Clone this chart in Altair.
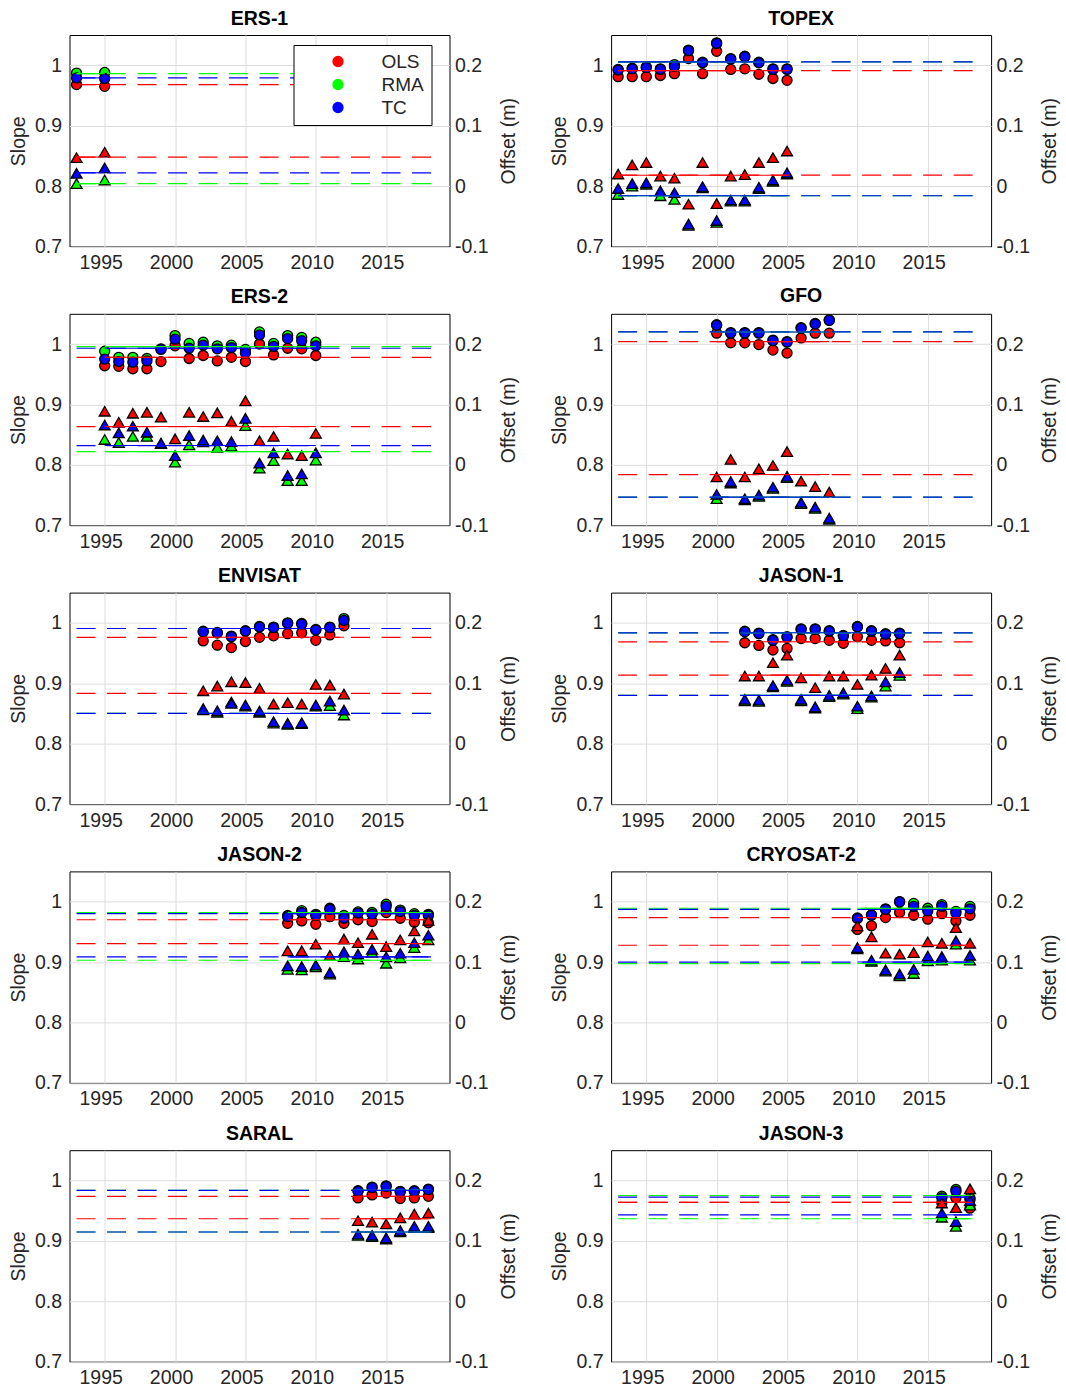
import altair as alt
import pandas as pd

FONT = "Liberation Sans"
METHODS = ["OLS", "RMA", "TC"]
COLORS = ["#ff0000", "#00ff00", "#0000ff"]
X_DOMAIN = [1992.5, 2019.5]
X_TICKS = [1995, 2000, 2005, 2010, 2015]
LINE_START, LINE_END = 1993, 2019
SLOPE_DOMAIN = [0.7, 1.05]
SLOPE_TICKS = [0.7, 0.8, 0.9, 1.0]
OFFSET_DOMAIN = [-0.1, 0.25]
OFFSET_TICKS = [-0.1, 0.0, 0.1, 0.2]

# ---------------- ERS-1 ----------------
ers1_years = [1993, 1995]
ers1_slope = {"OLS": [0.968, 0.965], "RMA": [0.987, 0.988], "TC": [0.979, 0.978]}
ers1_offset = {"OLS": [0.047, 0.056], "RMA": [0.004, 0.010], "TC": [0.021, 0.030]}
ers1_slope_mean = {"OLS": 0.968, "RMA": 0.986, "TC": 0.979}
ers1_offset_mean = {"OLS": 0.048, "RMA": 0.004, "TC": 0.022}

# ---------------- TOPEX ----------------
topex_years = list(range(1993, 2006))
topex_slope = {
    "OLS": [0.981, 0.981, 0.981, 0.983, 0.986, 1.011, 0.986, 1.023, 0.993, 0.994, 0.985, 0.978, 0.975],
    "RMA": [0.993, 0.995, 0.997, 0.994, 1.001, 1.025, 1.005, 1.037, 1.011, 1.015, 1.005, 0.994, 0.994],
    "TC": [0.992, 0.994, 0.996, 0.993, 0.998, 1.024, 1.004, 1.036, 1.010, 1.014, 1.004, 0.993, 0.993],
}
topex_offset = {
    "OLS": [0.020, 0.035, 0.039, 0.0165, 0.013, -0.030, 0.039, -0.029, 0.0165, 0.019, 0.039, 0.047, 0.058],
    "RMA": [-0.014, 0.000, 0.003, -0.016, -0.022, -0.065, -0.003, -0.060, -0.025, -0.025, -0.004, 0.008, 0.020],
    "TC": [-0.004, 0.004, 0.0055, -0.008, -0.011, -0.063, -0.001, -0.057, -0.023, -0.023, -0.002, 0.010, 0.022],
}
topex_slope_mean = {"OLS": 0.991, "RMA": 1.0055, "TC": 1.0055}
topex_offset_mean = {"OLS": 0.018, "RMA": -0.016, "TC": -0.016}

# ---------------- ERS-2 ----------------
ers2_years = list(range(1995, 2011))
ers2_slope = {
    "OLS": [0.964, 0.963, 0.959, 0.959, 0.971, 0.997, 0.976, 0.981, 0.972, 0.978, 0.971, 1.000, 0.982, 0.993, 0.992, 0.981],
    "RMA": [0.988, 0.978, 0.978, 0.976, 0.992, 1.014, 1.001, 1.003, 0.997, 0.998, 0.991, 1.020, 1.001, 1.014, 1.011, 1.003],
    "TC": [0.975, 0.971, 0.970, 0.972, 0.991, 1.008, 0.993, 0.998, 0.992, 0.994, 0.985, 1.015, 0.996, 1.009, 1.0055, 0.997],
}
ers2_offset = {
    "OLS": [0.0887, 0.0705, 0.0854, 0.087, 0.079, 0.043, 0.087, 0.080, 0.086, 0.072, 0.106, 0.040, 0.047, 0.018, 0.0154, 0.052],
    "RMA": [0.042, 0.037, 0.047, 0.047, 0.035, 0.0044, 0.033, 0.038, 0.029, 0.031, 0.065, -0.0055, 0.007, -0.026, -0.026, 0.008],
    "TC": [0.066, 0.053, 0.064, 0.054, 0.036, 0.0154, 0.0485, 0.041, 0.040, 0.0386, 0.077, 0.003, 0.020, -0.0176, -0.015, 0.020],
}
ers2_slope_mean = {"OLS": 0.978, "RMA": 0.9956, "TC": 0.993}
ers2_offset_mean = {"OLS": 0.0634, "RMA": 0.022, "TC": 0.032}

# ---------------- GFO ----------------
gfo_years = list(range(2000, 2009))
gfo_slope = {
    "OLS": [1.018, 1.002, 1.002, 0.999, 0.990, 0.985, 1.010, 1.018, 1.018],
    "RMA": [1.032, 1.019, 1.019, 1.019, 1.0065, 1.004, 1.027, 1.034, 1.040],
    "TC": [1.031, 1.018, 1.018, 1.018, 1.0055, 1.003, 1.026, 1.033, 1.039],
}
gfo_offset = {
    "OLS": [-0.020, 0.009, -0.020, -0.0066, -0.001, 0.022, -0.027, -0.036, -0.045],
    "RMA": [-0.056, -0.030, -0.058, -0.052, -0.039, -0.021, -0.064, -0.072, -0.090],
    "TC": [-0.049, -0.0275, -0.056, -0.050, -0.037, -0.019, -0.062, -0.070, -0.088],
}
gfo_slope_mean = {"OLS": 1.004, "RMA": 1.020, "TC": 1.020}
gfo_offset_mean = {"OLS": -0.016, "RMA": -0.0534, "TC": -0.0534}

# ---------------- ENVISAT ----------------
envisat_years = list(range(2002, 2013))
envisat_slope = {
    "OLS": [0.970, 0.963, 0.959, 0.969, 0.976, 0.9785, 0.982, 0.9835, 0.971, 0.980, 0.995],
    "RMA": [0.986, 0.984, 0.978, 0.987, 0.994, 0.993, 1.000, 0.999, 0.989, 0.993, 1.007],
    "TC": [0.985, 0.983, 0.977, 0.986, 0.993, 0.992, 0.999, 0.998, 0.988, 0.992, 1.004],
}
envisat_offset = {
    "OLS": [0.0876, 0.0953, 0.1025, 0.101, 0.0915, 0.0656, 0.0678, 0.0656, 0.098, 0.097, 0.082],
    "RMA": [0.056, 0.052, 0.069, 0.062, 0.052, 0.034, 0.032, 0.033, 0.062, 0.063, 0.0474],
    "TC": [0.058, 0.0545, 0.0667, 0.064, 0.054, 0.0364, 0.0336, 0.0347, 0.064, 0.0705, 0.0556],
}
envisat_slope_mean = {"OLS": 0.976, "RMA": 0.9906, "TC": 0.9906}
envisat_offset_mean = {"OLS": 0.0832, "RMA": 0.050, "TC": 0.050}

# ---------------- JASON-1 ----------------
jason1_years = list(range(2002, 2014))
jason1_slope = {
    "OLS": [0.967, 0.9625, 0.955, 0.9576, 0.974, 0.974, 0.971, 0.966, 0.977, 0.971, 0.970, 0.967],
    "RMA": [0.986, 0.983, 0.972, 0.977, 0.990, 0.990, 0.987, 0.979, 0.994, 0.987, 0.982, 0.983],
    "TC": [0.985, 0.982, 0.971, 0.976, 0.989, 0.989, 0.986, 0.978, 0.993, 0.986, 0.981, 0.982],
}
jason1_offset = {
    "OLS": [0.112, 0.112, 0.134, 0.1466, 0.109, 0.0926, 0.112, 0.112, 0.098, 0.1135, 0.1245, 0.1466],
    "RMA": [0.071, 0.070, 0.094, 0.103, 0.071, 0.059, 0.078, 0.082, 0.058, 0.077, 0.0953, 0.113],
    "TC": [0.0733, 0.072, 0.096, 0.105, 0.0733, 0.061, 0.080, 0.084, 0.062, 0.079, 0.1025, 0.1176],
}
jason1_slope_mean = {"OLS": 0.9686, "RMA": 0.9835, "TC": 0.9835}
jason1_offset_mean = {"OLS": 0.1135, "RMA": 0.080, "TC": 0.080}

# ---------------- JASON-2 ----------------
jason2_years = list(range(2008, 2019))
jason2_slope = {
    "OLS": [0.964, 0.968, 0.9625, 0.975, 0.964, 0.970, 0.967, 0.982, 0.9725, 0.966, 0.965],
    "RMA": [0.977, 0.985, 0.979, 0.989, 0.977, 0.983, 0.982, 0.9956, 0.986, 0.980, 0.979],
    "TC": [0.975, 0.982, 0.977, 0.987, 0.9725, 0.981, 0.979, 0.992, 0.9835, 0.977, 0.977],
}
jason2_offset = {
    "OLS": [0.1185, 0.1185, 0.1295, 0.111, 0.138, 0.132, 0.146, 0.1256, 0.1366, 0.1515, 0.169],
    "RMA": [0.088, 0.087, 0.092, 0.080, 0.109, 0.105, 0.116, 0.098, 0.107, 0.124, 0.1366],
    "TC": [0.0937, 0.0926, 0.095, 0.0826, 0.117, 0.113, 0.121, 0.1085, 0.1146, 0.132, 0.1444],
}
jason2_slope_mean = {"OLS": 0.970, "RMA": 0.982, "TC": 0.980}
jason2_offset_mean = {"OLS": 0.1306, "RMA": 0.103, "TC": 0.1085}

# ---------------- CRYOSAT-2 ----------------
cryosat2_years = list(range(2010, 2019))
cryosat2_slope = {
    "OLS": [0.954, 0.960, 0.9736, 0.982, 0.9774, 0.971, 0.980, 0.968, 0.9774],
    "RMA": [0.973, 0.978, 0.988, 1.000, 0.997, 0.989, 0.995, 0.984, 0.992],
    "TC": [0.972, 0.9774, 0.987, 0.9995, 0.992, 0.9846, 0.992, 0.9807, 0.988],
}
cryosat2_offset = {
    "OLS": [0.160, 0.1416, 0.1146, 0.113, 0.1157, 0.1333, 0.131, 0.157, 0.131],
    "RMA": [0.122, 0.101, 0.085, 0.077, 0.081, 0.102, 0.103, 0.1295, 0.103],
    "TC": [0.124, 0.103, 0.087, 0.080, 0.088, 0.110, 0.109, 0.135, 0.111],
}
cryosat2_slope_mean = {"OLS": 0.9736, "RMA": 0.989, "TC": 0.987}
cryosat2_offset_mean = {"OLS": 0.1278, "RMA": 0.0975, "TC": 0.100}

# ---------------- SARAL ----------------
saral_years = list(range(2013, 2019))
saral_slope = {
    "OLS": [0.971, 0.976, 0.979, 0.970, 0.971, 0.9736],
    "RMA": [0.983, 0.989, 0.991, 0.982, 0.983, 0.9856],
    "TC": [0.982, 0.988, 0.990, 0.981, 0.982, 0.9846],
}
saral_offset = {
    "OLS": [0.1333, 0.131, 0.128, 0.138, 0.1444, 0.146],
    "RMA": [0.109, 0.107, 0.103, 0.115, 0.122, 0.122],
    "TC": [0.111, 0.109, 0.105, 0.117, 0.124, 0.124],
}
saral_slope_mean = {"OLS": 0.9736, "RMA": 0.9835, "TC": 0.9835}
saral_offset_mean = {"OLS": 0.1366, "RMA": 0.1146, "TC": 0.1146}

# ---------------- JASON-3 ----------------
jason3_years = [2016, 2017, 2018]
jason3_slope = {"OLS": [0.963, 0.971, 0.954], "RMA": [0.974, 0.985, 0.971], "TC": [0.971, 0.982, 0.968]}
jason3_offset = {"OLS": [0.1626, 0.155, 0.186], "RMA": [0.139, 0.124, 0.159], "TC": [0.146, 0.132, 0.1664]}
jason3_slope_mean = {"OLS": 0.9636, "RMA": 0.975, "TC": 0.9725}
jason3_offset_mean = {"OLS": 0.1636, "RMA": 0.1366, "TC": 0.143}

PANELS = [
    ("ERS-1", ers1_years, ers1_slope, ers1_offset, ers1_slope_mean, ers1_offset_mean),
    ("TOPEX", topex_years, topex_slope, topex_offset, topex_slope_mean, topex_offset_mean),
    ("ERS-2", ers2_years, ers2_slope, ers2_offset, ers2_slope_mean, ers2_offset_mean),
    ("GFO", gfo_years, gfo_slope, gfo_offset, gfo_slope_mean, gfo_offset_mean),
    ("ENVISAT", envisat_years, envisat_slope, envisat_offset, envisat_slope_mean, envisat_offset_mean),
    ("JASON-1", jason1_years, jason1_slope, jason1_offset, jason1_slope_mean, jason1_offset_mean),
    ("JASON-2", jason2_years, jason2_slope, jason2_offset, jason2_slope_mean, jason2_offset_mean),
    ("CRYOSAT-2", cryosat2_years, cryosat2_slope, cryosat2_offset, cryosat2_slope_mean, cryosat2_offset_mean),
    ("SARAL", saral_years, saral_slope, saral_offset, saral_slope_mean, saral_offset_mean),
    ("JASON-3", jason3_years, jason3_slope, jason3_offset, jason3_slope_mean, jason3_offset_mean),
]

PANEL_W = 380
PANEL_H = 211.5


def make_panel(title, years, slope, offset, slope_mean, offset_mean, show_legend):
    rows = []
    for m in METHODS:
        for yr, s, o in zip(years, slope[m], offset[m]):
            rows.append({"year": yr, "method": m, "slope": s, "offset": o})
    pts = pd.DataFrame(rows)
    means = pd.DataFrame([
        {"method": m, "smean": slope_mean[m], "omean": offset_mean[m],
         "x0": LINE_START, "x1": LINE_END, "s0": years[0], "s1": years[-1]}
        for m in METHODS
    ])

    xscale = alt.Scale(domain=X_DOMAIN, nice=False, zero=False)
    xaxis = alt.Axis(values=X_TICKS, format="d", title=None, grid=True,
                     labelPadding=7, labelFlush=False, labelOffset=-4)
    ys = alt.Scale(domain=SLOPE_DOMAIN, nice=False, zero=False)
    ysaxis = alt.Axis(values=SLOPE_TICKS, format="~g", title="Slope", grid=True,
                      orient="left", labelPadding=8, titlePadding=6)
    yo = alt.Scale(domain=OFFSET_DOMAIN, nice=False, zero=False)
    yoaxis = alt.Axis(values=OFFSET_TICKS, title="Offset (m)", grid=False, orient="right",
                      labelExpr="datum.value < 0 ? '-' + format(-datum.value, '~g') : format(datum.value, '~g')",
                      labelPadding=5, titlePadding=11, titleAngle=270, titleBaseline="top")
    fillscale = alt.Scale(domain=METHODS, range=COLORS)

    if show_legend:
        legend = alt.Legend(title=None, orient="none", legendX=224, legendY=10,
                            strokeColor="black", fillColor="white", padding=7,
                            symbolType="circle", symbolSize=100, symbolStrokeColor="black",
                            symbolStrokeWidth=1.3, symbolOffset=28, labelOffset=34,
                            labelFontSize=19, labelFont=FONT, labelColor="#262626",
                            rowPadding=3, labelLimit=200)
    else:
        legend = None

    circles = alt.Chart(pts).mark_point(
        shape="circle", filled=True, size=100, stroke="black", strokeWidth=1.3, opacity=1
    ).encode(
        x=alt.X("year:Q", scale=xscale, axis=xaxis),
        y=alt.Y("slope:Q", scale=ys, axis=ysaxis),
        fill=alt.Fill("method:N", scale=fillscale, legend=legend),
    )
    dash_s = alt.Chart(means).mark_rule(strokeDash=[19, 11.5], strokeWidth=1.2).encode(
        x=alt.X("x0:Q", scale=xscale, axis=xaxis), x2="x1:Q",
        y=alt.Y("smean:Q", scale=ys, axis=ysaxis),
        color=alt.Color("method:N", scale=fillscale, legend=None),
    )
    solid_s = alt.Chart(means).mark_rule(strokeWidth=1.1).encode(
        x=alt.X("s0:Q", scale=xscale, axis=xaxis), x2="s1:Q",
        y=alt.Y("smean:Q", scale=ys, axis=ysaxis),
        color=alt.Color("method:N", scale=fillscale, legend=None),
    )
    tris = alt.Chart(pts).mark_point(
        shape="triangle-up", filled=True, size=120, stroke="black", strokeWidth=1.3, opacity=1
    ).encode(
        x=alt.X("year:Q", scale=xscale, axis=xaxis),
        y=alt.Y("offset:Q", scale=yo, axis=yoaxis),
        fill=alt.Fill("method:N", scale=fillscale, legend=legend),
    )
    dash_o = alt.Chart(means).mark_rule(strokeDash=[19, 11.5], strokeWidth=1.2).encode(
        x=alt.X("x0:Q", scale=xscale, axis=xaxis), x2="x1:Q",
        y=alt.Y("omean:Q", scale=yo, axis=yoaxis),
        color=alt.Color("method:N", scale=fillscale, legend=None),
    )
    solid_o = alt.Chart(means).mark_rule(strokeWidth=1.1).encode(
        x=alt.X("s0:Q", scale=xscale, axis=xaxis), x2="s1:Q",
        y=alt.Y("omean:Q", scale=yo, axis=yoaxis),
        color=alt.Color("method:N", scale=fillscale, legend=None),
    )
    left = alt.layer(circles, dash_s, solid_s)
    right = alt.layer(tris, dash_o, solid_o)
    return alt.layer(left, right).resolve_scale(y="independent").properties(
        width=PANEL_W, height=PANEL_H,
        title=alt.TitleParams(text=title, fontSize=19.5, fontWeight="bold", font=FONT,
                              color="black", anchor="middle", offset=6),
    )


panels = [make_panel(*p, show_legend=(i == 0)) for i, p in enumerate(PANELS)]

chart = alt.ConcatChart(
    concat=panels, columns=2, bounds="flush",
    spacing={"row": 66.8, "column": 161.6},
).resolve_scale(
    fill="independent", color="independent"
).configure_view(
    stroke="black", strokeWidth=1
).configure_axis(
    domain=False, ticks=False, tickSize=0,
    labelFont=FONT, titleFont=FONT, labelFontSize=19.5, titleFontSize=19.5,
    titleFontWeight="normal", labelColor="#262626", titleColor="#262626",
    gridColor="#dcdcdc", gridWidth=1,
).properties(
    padding={"left": 7.5, "top": 8, "right": 5, "bottom": 5},
    background="white",
)

chart.save("out.html", embed_options={"renderer": "svg", "actions": False})
